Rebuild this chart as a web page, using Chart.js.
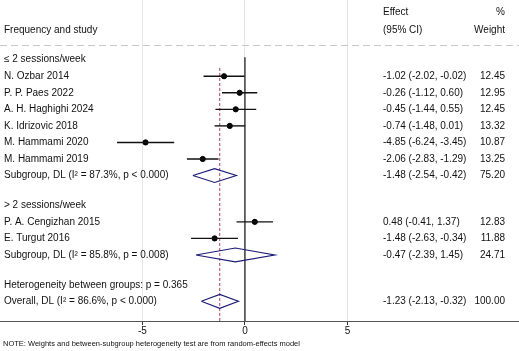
<!DOCTYPE html>
<html>
<head>
<meta charset="utf-8">
<script src="https://cdn.jsdelivr.net/npm/chart.js@4.4.0/dist/chart.umd.min.js"></script>
<style>
  html, body { margin: 0; padding: 0; background: #fff; }
  #wrap { width: 519px; height: 351px; }
</style>
</head>
<body>
<div id="wrap"><canvas id="forest"></canvas></div>
<script>
// studies
const studies = ["N. Ozbar 2014", "P. P. Paes 2022", "A. H. Haghighi 2024", "K. Idrizovic 2018",
  "M. Hammami 2020", "M. Hammami 2019", "P. A. Cengizhan 2015", "E. Turgut 2016"];
const studyRows = [1, 2, 3, 4, 5, 6, 9.8, 10.8];
const effect = [-1.02, -0.26, -0.45, -0.74, -4.85, -2.06, 0.48, -1.48];
const lower = [-2.02, -1.12, -1.44, -1.48, -6.24, -2.83, -0.41, -2.63];
const upper = [-0.02, 0.60, 0.55, 0.01, -3.45, -1.29, 1.37, -0.34];
const weight = [12.45, 12.95, 12.45, 13.32, 10.87, 13.25, 12.83, 11.88];

// pooled estimates
const pooledLabels = ["Subgroup, DL (I\u00B2 = 87.3%, p < 0.000)", "Subgroup, DL (I\u00B2 = 85.8%, p = 0.008)",
  "Overall, DL (I\u00B2 = 86.6%, p < 0.000)"];
const pooledRows = [7, 11.8, 14.6];
const pooledEffect = [-1.48, -0.47, -1.23];
const pooledLower = [-2.54, -2.39, -2.13];
const pooledUpper = [-0.42, 1.45, -0.32];
const pooledWeight = [75.20, 24.71, 100.00];

const headings = ["\u2264 2 sessions/week", "> 2 sessions/week", "Heterogeneity between groups: p = 0.365"];
const headingRows = [0, 8.8, 13.6];

const xTicks = [-5, 0, 5];
const overallEffect = -1.23;

const FONT = '"Liberation Sans", Arial, Helvetica, sans-serif';
const yMin = -3.606, yMax = 15.79;

const fmt = (e, lo, hi) => e.toFixed(2) + " (" + lo.toFixed(2) + ", " + hi.toFixed(2) + ")";

// CI lines, one per study
const ciSets = studies.map((s, i) => ({
  data: [{ x: lower[i], y: studyRows[i] }, { x: upper[i], y: studyRows[i] }],
  showLine: true, borderColor: "#111", borderWidth: 1.4, pointRadius: 0
}));

const pointSet = {
  data: effect.map((e, i) => ({ x: e, y: studyRows[i] })),
  showLine: false, pointRadius: 2.6, backgroundColor: "#000", borderColor: "#000"
};

const diamondSets = pooledEffect.map((e, i) => {
  const r = pooledRows[i];
  return {
    data: [
      { x: pooledLower[i], y: r }, { x: e, y: r - 0.42 }, { x: pooledUpper[i], y: r },
      { x: e, y: r + 0.42 }, { x: pooledLower[i], y: r }
    ],
    showLine: true, borderColor: "#1c1c78", borderWidth: 1.2, pointRadius: 0
  };
});

const zeroLine = {
  data: [{ x: 0, y: -0.15 }, { x: 0, y: yMax }],
  showLine: true, borderColor: "#111", borderWidth: 1.2, pointRadius: 0
};

const overallLine = {
  data: [{ x: overallEffect, y: 0.5 }, { x: overallEffect, y: yMax }],
  showLine: true, borderColor: "#a8405a", borderWidth: 1, borderDash: [3, 2], pointRadius: 0
};

const textPlugin = {
  id: "forestText",
  afterDraw(chart) {
    const { ctx, scales: { y } } = chart;
    const effX = 383, wX = 505, labX = 4;
    ctx.save();
    ctx.font = "10px " + FONT;
    ctx.fillStyle = "#111";
    ctx.textBaseline = "middle";

    // header
    ctx.textAlign = "left";
    ctx.fillText("Frequency and study", labX, 30);
    ctx.fillText("Effect", effX, 12);
    ctx.fillText("(95% CI)", effX, 30);
    ctx.textAlign = "right";
    ctx.fillText("%", wX, 12);
    ctx.fillText("Weight", wX, 30);

    ctx.strokeStyle = "#c8c8c8";
    ctx.lineWidth = 1;
    ctx.setLineDash([7, 4]);
    ctx.beginPath();
    ctx.moveTo(0, 45.5);
    ctx.lineTo(519, 45.5);
    ctx.stroke();
    ctx.setLineDash([]);

    ctx.textAlign = "left";
    headings.forEach((h, i) => ctx.fillText(h, labX, y.getPixelForValue(headingRows[i])));

    studies.forEach((s, i) => {
      const py = y.getPixelForValue(studyRows[i]);
      ctx.textAlign = "left";
      ctx.fillText(s, labX, py);
      ctx.fillText(fmt(effect[i], lower[i], upper[i]), effX, py);
      ctx.textAlign = "right";
      ctx.fillText(weight[i].toFixed(2), wX, py);
    });

    pooledLabels.forEach((s, i) => {
      const py = y.getPixelForValue(pooledRows[i]);
      ctx.textAlign = "left";
      ctx.fillText(s, labX, py);
      ctx.fillText(fmt(pooledEffect[i], pooledLower[i], pooledUpper[i]), effX, py);
      ctx.textAlign = "right";
      ctx.fillText(pooledWeight[i].toFixed(2), wX, py);
    });

    ctx.font = "7.5px " + FONT;
    ctx.textAlign = "left";
    ctx.fillText("NOTE: Weights and between-subgroup heterogeneity test are from random-effects model", 3, 344);
    ctx.restore();
  }
};

new Chart(document.getElementById("forest"), {
  type: "scatter",
  data: { datasets: [...ciSets, pointSet, ...diamondSets, overallLine, zeroLine] },
  options: {
    responsive: true,
    maintainAspectRatio: false,
    animation: false,
    layout: { autoPadding: false, padding: { left: 0, right: 0, top: 0, bottom: 14 } },
    plugins: { legend: { display: false }, tooltip: { enabled: false } },
    scales: {
      x: {
        type: "linear",
        min: -11.95,
        max: 13.37,
        afterBuildTicks: (axis) => { axis.ticks = xTicks.map(v => ({ value: v })); },
        grid: { color: "#e6e6e6", tickColor: "#333", tickLength: 4 },
        border: { color: "#555" },
        ticks: { color: "#111", font: { family: FONT, size: 10 }, padding: 0, maxRotation: 0 }
      },
      y: { display: false, reverse: true, min: yMin, max: yMax }
    }
  },
  plugins: [textPlugin]
});
</script>
</body>
</html>
